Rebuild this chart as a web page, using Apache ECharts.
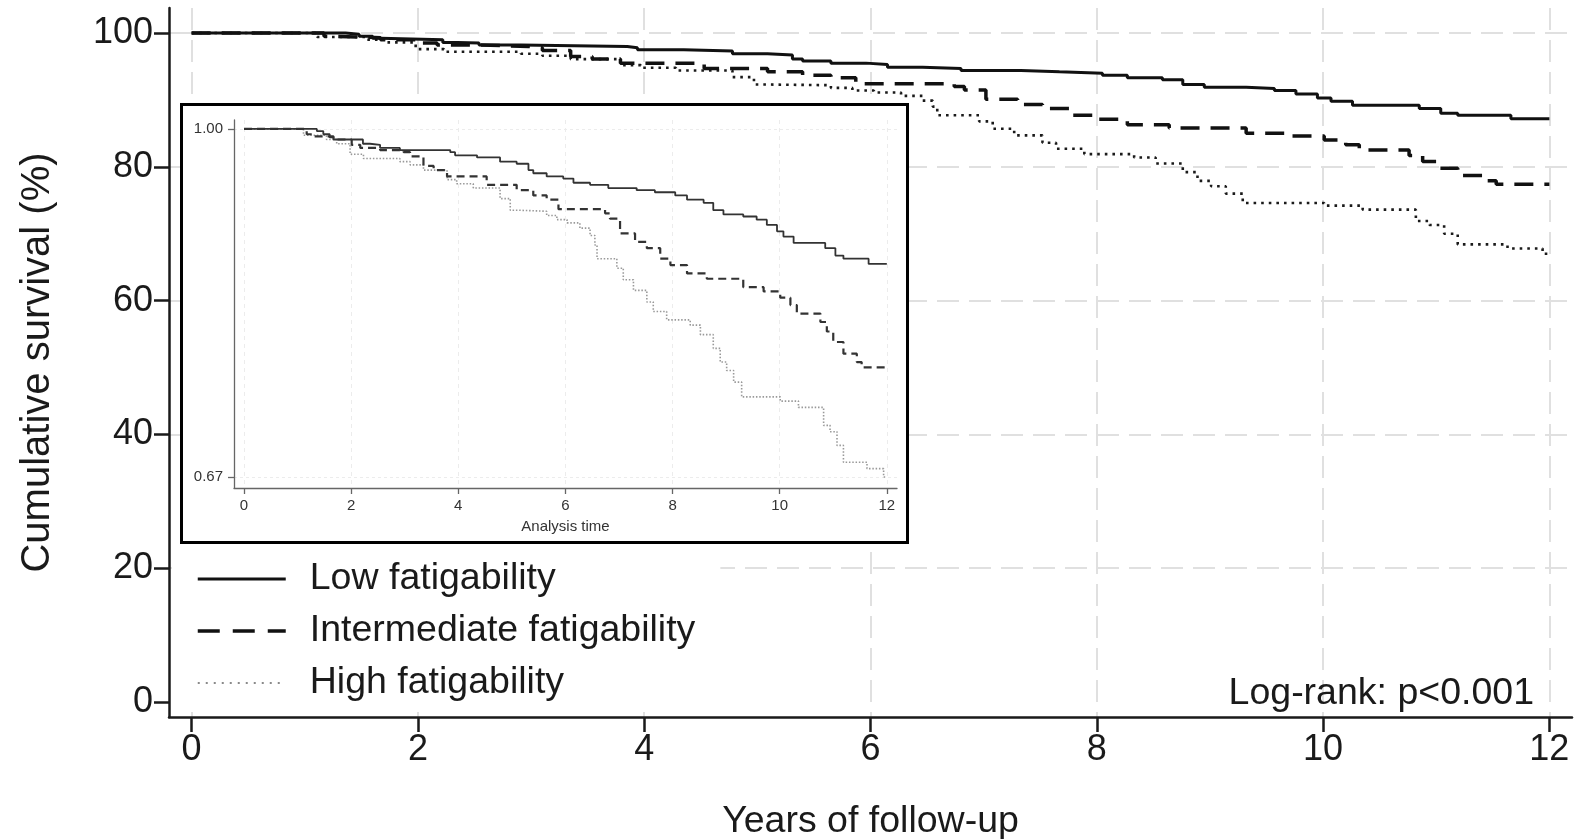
<!DOCTYPE html>
<html>
<head>
<meta charset="utf-8">
<style>
html,body{margin:0;padding:0;background:#fff;}
#chart{width:1575px;height:839px;}
</style>
<script src="https://cdn.jsdelivr.net/npm/echarts@6/dist/echarts.min.js"></script>
</head>
<body>
<div id="chart"></div>
<script>
// ---- data (survival in %, time in years) ----
const groupNames = ['Low fatigability', 'Intermediate fatigability', 'High fatigability'];

const lowT = [0, 1.36, 1.48, 1.60, 1.67, 2.22, 2.35, 2.54, 2.91, 3.85, 3.94, 4.35, 4.78, 5.09, 5.31, 5.40, 5.65, 5.96, 6.15, 6.46, 6.80, 7.33, 7.67, 8.05, 8.27, 8.58, 8.76, 8.95, 9.32, 9.57, 9.76, 9.95, 10.07, 10.26, 10.85, 11.04, 11.19, 11.66, 12.0];
const lowS = [100, 99.8, 99.5, 99.2, 99.0, 98.6, 98.5, 98.2, 98.0, 97.8, 97.5, 97.3, 96.9, 96.7, 96.1, 95.8, 95.5, 95.3, 94.9, 94.7, 94.4, 94.2, 94.0, 93.7, 93.3, 93.0, 92.3, 91.9, 91.7, 91.4, 90.9, 90.3, 89.8, 89.2, 88.7, 88.0, 87.7, 87.2, 87.2];

const intT = [0, 1.17, 1.29, 1.67, 2.01, 2.17, 2.54, 2.98, 3.10, 3.35, 3.54, 3.79, 4.53, 5.09, 5.40, 5.65, 5.87, 6.74, 6.83, 7.02, 7.30, 7.52, 7.77, 7.96, 8.27, 8.64, 9.32, 9.70, 10.01, 10.20, 10.32, 10.76, 10.88, 11.00, 11.19, 11.44, 11.53, 12.0];
const intS = [100, 99.5, 99.3, 99.0, 98.5, 98.2, 98.0, 97.8, 97.4, 96.5, 96.1, 95.5, 94.7, 94.2, 93.7, 93.3, 92.4, 92.0, 91.5, 90.1, 89.3, 88.7, 87.7, 87.1, 86.3, 85.8, 85.0, 84.6, 84.0, 83.3, 82.5, 81.7, 80.8, 79.8, 78.7, 77.9, 77.4, 77.4];

const highT = [0, 1.11, 1.54, 1.73, 1.98, 2.23, 2.91, 3.10, 3.35, 3.79, 3.97, 4.28, 4.78, 4.97, 5.09, 5.65, 5.84, 6.03, 6.27, 6.46, 6.55, 6.59, 6.96, 7.08, 7.27, 7.52, 7.64, 7.89, 8.33, 8.52, 8.76, 8.89, 9.01, 9.14, 9.29, 10.01, 10.35, 10.82, 10.94, 11.07, 11.19, 11.63, 11.94, 12.0];
const highS = [100, 99.4, 99.0, 98.6, 97.6, 97.2, 96.9, 96.6, 96.1, 95.2, 94.8, 94.4, 93.4, 92.3, 92.2, 91.8, 91.4, 91.1, 90.6, 89.9, 89.0, 87.7, 86.8, 85.7, 84.7, 83.6, 82.7, 81.9, 81.4, 80.5, 79.2, 77.9, 77.1, 76.0, 74.6, 74.2, 73.6, 71.9, 71.3, 70.0, 68.4, 67.8, 67.0, 67.0];

const xTicks = [0, 2, 4, 6, 8, 10, 12];
const yTicks = [0, 20, 40, 60, 80, 100];
const yGridValues = [20, 40, 60, 80, 100];
const insetYTicks = [67, 100];
const logRankText = 'Log-rank: p<0.001';

// ---- build ----
const pairs = (T, S) => T.map((t, i) => [t, S[i]]);
const lowData = pairs(lowT, lowS);
const intData = pairs(intT, intS);
const highData = pairs(highT, highS);

const FONT = '"Liberation Sans", Arial, Helvetica, sans-serif';
const TXT = '#1a1a1a';
const BIG = 37.5;
const TICK = 36;

const chart = echarts.init(document.getElementById('chart'), null, {renderer: 'canvas'});

const mainLine = [
  {color: '#111', width: 3, type: 'solid'},
  {color: '#111', width: 3.5, type: [19, 11]},
  {color: '#1a1a1a', width: 2.6, type: [2.6, 5]}
];
const insetLine = [
  {color: '#333', width: 1.8, type: 'solid'},
  {color: '#333', width: 2.2, type: [8, 5]},
  {color: '#999', width: 1.6, type: [1.5, 1.8]}
];

const option = {
  animation: false,
  backgroundColor: '#fff',
  textStyle: {fontFamily: FONT},
  grid: [
    {left: 169, right: 3, top: 8, bottom: 122, containLabel: false, outerBoundsMode: 'none'},
    {left: 234, width: 663, top: 120, height: 368, containLabel: false, outerBoundsMode: 'none'}
  ],
  graphic: [{
    type: 'rect', z: 1,
    shape: {x: 181.5, y: 104.5, width: 726, height: 438},
    style: {fill: '#fff', stroke: '#000', lineWidth: 3}
  }],
  title: {
    text: logRankText, right: 41, top: 675, padding: 0,
    textStyle: {fontFamily: FONT, fontSize: BIG, fontWeight: 'normal', color: TXT}
  },
  legend: {
    orient: 'vertical', left: 172, top: 551,
    padding: [8, 25, 8, 24],
    backgroundColor: '#fff',
    itemWidth: 88, itemHeight: 20, itemGap: 12,
    itemStyle: {color: 'rgba(0,0,0,0)', borderWidth: 0, opacity: 0},
    textStyle: {fontFamily: FONT, fontSize: BIG, color: TXT, lineHeight: 40, padding: [0, 0, 0, 19]},
    data: [
      {name: groupNames[0], lineStyle: {color: '#111', width: 3, type: 'solid'}},
      {name: groupNames[1], lineStyle: {color: '#111', width: 3.5, type: [22, 13]}},
      {name: groupNames[2], lineStyle: {color: '#8a8a8a', width: 2, type: [2, 6]}}
    ],
    selectedMode: false
  },
  xAxis: [
    {
      type: 'value', gridIndex: 0, min: -0.2, max: 12.2,
      axisLine: {show: true, onZero: false, lineStyle: {color: TXT, width: 2.5}},
      axisTick: {show: true, customValues: xTicks, length: 15, lineStyle: {color: TXT, width: 2.5}},
      axisLabel: {customValues: xTicks, fontSize: TICK, color: TXT, margin: 15, fontFamily: FONT},
      splitLine: {show: true, lineStyle: {color: '#e0e0e0', width: 2, type: [22, 10]}},
      name: 'Years of follow-up', nameLocation: 'middle', nameGap: 86,
      nameTextStyle: {fontSize: BIG, color: TXT, fontFamily: FONT}
    },
    {
      type: 'value', gridIndex: 1, min: -0.187, max: 12.19, z: 3,
      axisLine: {show: true, onZero: false, lineStyle: {color: '#666', width: 1.3}},
      axisTick: {show: true, customValues: xTicks, length: 6, lineStyle: {color: '#666', width: 1.3}},
      axisLabel: {customValues: xTicks, fontSize: 15, color: '#333', margin: 10, fontFamily: FONT},
      splitLine: {show: true, lineStyle: {color: '#ececec', width: 1, type: [4, 4]}},
      name: 'Analysis time', nameLocation: 'middle', nameGap: 31,
      nameTextStyle: {fontSize: 15, color: '#333', fontFamily: FONT}
    }
  ],
  yAxis: [
    {
      type: 'value', gridIndex: 0, min: -2.24, max: 103.74,
      axisLine: {show: true, onZero: false, lineStyle: {color: TXT, width: 2.5}},
      axisTick: {show: true, customValues: yTicks, length: 15, lineStyle: {color: TXT, width: 2.5}},
      axisLabel: {customValues: yTicks, fontSize: TICK, color: TXT, margin: 16, fontFamily: FONT},
      splitLine: {show: false},
      name: 'Cumulative survival (%)', nameLocation: 'middle', nameGap: 111, nameRotate: 90,
      nameTextStyle: {fontSize: 40, color: TXT, fontFamily: FONT}
    },
    {
      type: 'value', gridIndex: 0, min: -2.24, max: 103.74,
      axisLine: {show: false, onZero: false},
      axisTick: {show: false, customValues: yGridValues},
      axisLabel: {show: false, customValues: yGridValues},
      splitLine: {show: true, lineStyle: {color: '#e0e0e0', width: 2, type: [22, 10]}}
    },
    {
      type: 'value', gridIndex: 1, min: 65.96, max: 100.85, z: 3,
      axisLine: {show: true, onZero: false, lineStyle: {color: '#666', width: 1.3}},
      axisTick: {show: true, customValues: insetYTicks, length: 6, lineStyle: {color: '#666', width: 1.3}},
      axisLabel: {customValues: insetYTicks, fontSize: 15, color: '#333', margin: 11, fontFamily: FONT,
        formatter: v => (v / 100).toFixed(2)},
      splitLine: {show: true, lineStyle: {color: '#ececec', width: 1, type: [3, 3]}}
    }
  ],
  series: [
    {name: groupNames[2], type: 'line', xAxisIndex: 0, yAxisIndex: 0, step: 'end', symbol: 'none', z: 2, data: highData, lineStyle: mainLine[2]},
    {name: groupNames[1], type: 'line', xAxisIndex: 0, yAxisIndex: 0, step: 'end', symbol: 'none', z: 2, data: intData, lineStyle: mainLine[1]},
    {name: groupNames[0], type: 'line', xAxisIndex: 0, yAxisIndex: 0, step: 'end', symbol: 'none', z: 2, data: lowData, lineStyle: mainLine[0]},
    {name: groupNames[2], type: 'line', xAxisIndex: 1, yAxisIndex: 2, step: 'end', symbol: 'none', z: 4, data: highData, lineStyle: insetLine[2]},
    {name: groupNames[1], type: 'line', xAxisIndex: 1, yAxisIndex: 2, step: 'end', symbol: 'none', z: 4, data: intData, lineStyle: insetLine[1]},
    {name: groupNames[0], type: 'line', xAxisIndex: 1, yAxisIndex: 2, step: 'end', symbol: 'none', z: 4, data: lowData, lineStyle: insetLine[0]}
  ]
};
chart.setOption(option);
</script>
</body>
</html>
